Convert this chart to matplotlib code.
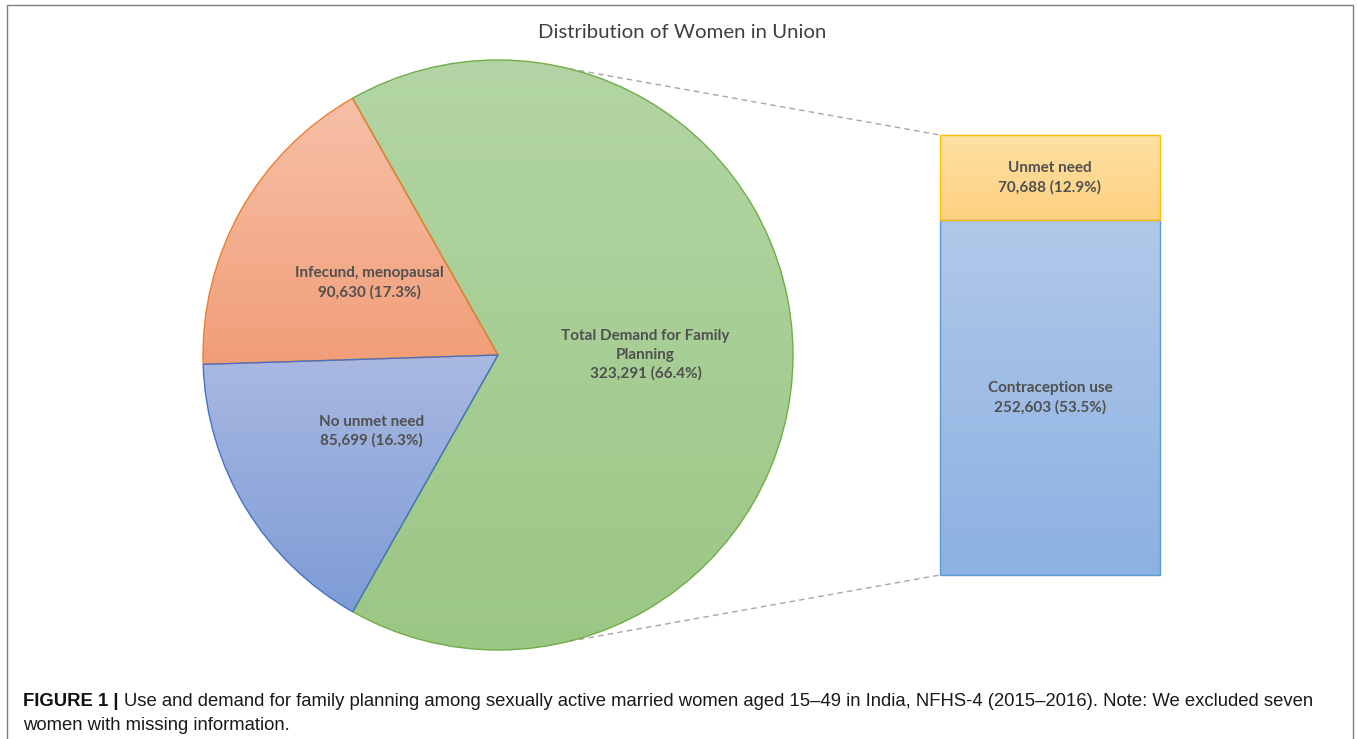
import numpy as np
import matplotlib
matplotlib.use("Agg")
import matplotlib.pyplot as plt
from matplotlib.colors import LinearSegmentedColormap
from matplotlib.patches import Rectangle

# pie slices (Excel pie-of-bar)
pie_labels = ["Total Demand for Family\nPlanning", "Infecund, menopausal", "No unmet need"]
pie_counts = ["323,291", "90,630", "85,699"]
pie_pct = [66.4, 17.3, 16.3]

# breakdown of "Total Demand" shown in the bar
bar_labels = ["Contraception use", "Unmet need"]
bar_counts = ["252,603", "70,688"]
bar_pct = [53.5, 12.9]

pie_grad = [("#b3d5a5", "#9bc784"), ("#f7c0a8", "#f19e78"), ("#a9b9e2", "#7e9bd6")]
pie_edge = ["#70ad47", "#ed7d31", "#4472c4"]
bar_grad = [("#b1c8e9", "#8cb1e2"), ("#fee1a3", "#fdd080")]
bar_edge = ["#5b9bd5", "#ffc000"]

W, H = 1357, 739
fig = plt.figure(figsize=(W / 100, H / 100), dpi=100)
ax = fig.add_axes([0, 0, 1, 1])

label_font = dict(family=["Lato", "DejaVu Sans"], fontsize=11, fontweight="bold", color="#505050")


def gradient_fill(patch, top, bottom, x0, x1, y0, y1):
    cmap = LinearSegmentedColormap.from_list("g", [bottom, top])
    grad = np.linspace(0, 1, 256).reshape(-1, 1)
    im = ax.imshow(grad, cmap=cmap, origin="lower", extent=[x0, x1, y0, y1],
                   aspect="auto", zorder=1, interpolation="bilinear")
    im.set_clip_path(patch)


# pie
cx, cy, R = 498, H - 355, 295
wedges, _ = ax.pie(pie_pct, startangle=-119.5, counterclock=True, center=(cx, cy),
                   radius=R, wedgeprops=dict(linewidth=1.0, fill=False))
for w, pct, (top, bot), ec, lab, cnt in zip(wedges, pie_pct, pie_grad, pie_edge, pie_labels, pie_counts):
    w.set_edgecolor(ec)
    w.set_zorder(2)
    v = w.get_path().vertices
    gradient_fill(w, top, bot, cx - R, cx + R, v[:, 1].min(), v[:, 1].max())
    mid = np.deg2rad((w.theta1 + w.theta2) / 2)
    ax.text(cx + 0.5 * R * np.cos(mid), cy + 0.5 * R * np.sin(mid), f"{lab}\n{cnt} ({pct}%)",
            ha="center", va="center", linespacing=1.4, zorder=5, **label_font)

# bar: same total as the big slice, rescaled
bar_x, bar_w, bar_y0, bar_px = 1050, 220, H - 575, 440
scale = bar_px / sum(bar_pct)
bottom = bar_y0
for pct, (top, bot), ec, lab, cnt in zip(bar_pct, bar_grad, bar_edge, bar_labels, bar_counts):
    b = ax.bar(bar_x, pct * scale, width=bar_w, bottom=bottom, fill=False,
               edgecolor=ec, linewidth=1.0, zorder=3)[0]
    gradient_fill(b, top, bot, b.get_x(), b.get_x() + bar_w, bottom, bottom + pct * scale)
    ax.text(bar_x, bottom + pct * scale / 2, f"{lab}\n{cnt} ({pct}%)",
            ha="center", va="center", linespacing=1.4, zorder=5, **label_font)
    bottom += pct * scale

# connector lines from the pie to the bar
for ang, yb in [(76, bottom), (-76, bar_y0)]:
    a = np.deg2rad(ang)
    ax.plot([cx + R * np.cos(a), bar_x - bar_w / 2], [cy + R * np.sin(a), yb],
            color="#a6a6a6", lw=1.0, ls=(0, (4, 3)), zorder=0)

ax.text(682, H - 32, "Distribution of Women in Union", ha="center", va="center",
        fontsize=14.7, color="#404040", family=["Lato", "DejaVu Sans"])

# outer frame
ax.add_patch(Rectangle((7, -5), 1346, H, fill=False, ec="#7f7f7f", lw=1.0, zorder=6))

ax.set_xlim(0, W)
ax.set_ylim(0, H)
ax.set_aspect("auto")
ax.set_axis_off()

cap_font = ["Liberation Sans", "DejaVu Sans"]
cap_size = 13.35
t = ax.text(23, H - 702, "FIGURE 1 | ", ha="left", va="center", fontsize=cap_size,
            fontweight="bold", color="#111111", family=cap_font)
fig.canvas.draw()
bb = t.get_window_extent().transformed(ax.transData.inverted())
ax.text(bb.x1, H - 702, "Use and demand for family planning among sexually active married women "
        "aged 15\u201349 in India, NFHS-4 (2015\u20132016). Note: We excluded seven",
        ha="left", va="center", fontsize=cap_size, color="#1a1a1a", family=cap_font)
ax.text(23, H - 726, "women with missing information.", ha="left", va="center",
        fontsize=cap_size, color="#1a1a1a", family=cap_font)

fig.savefig("out.png", dpi=100)
